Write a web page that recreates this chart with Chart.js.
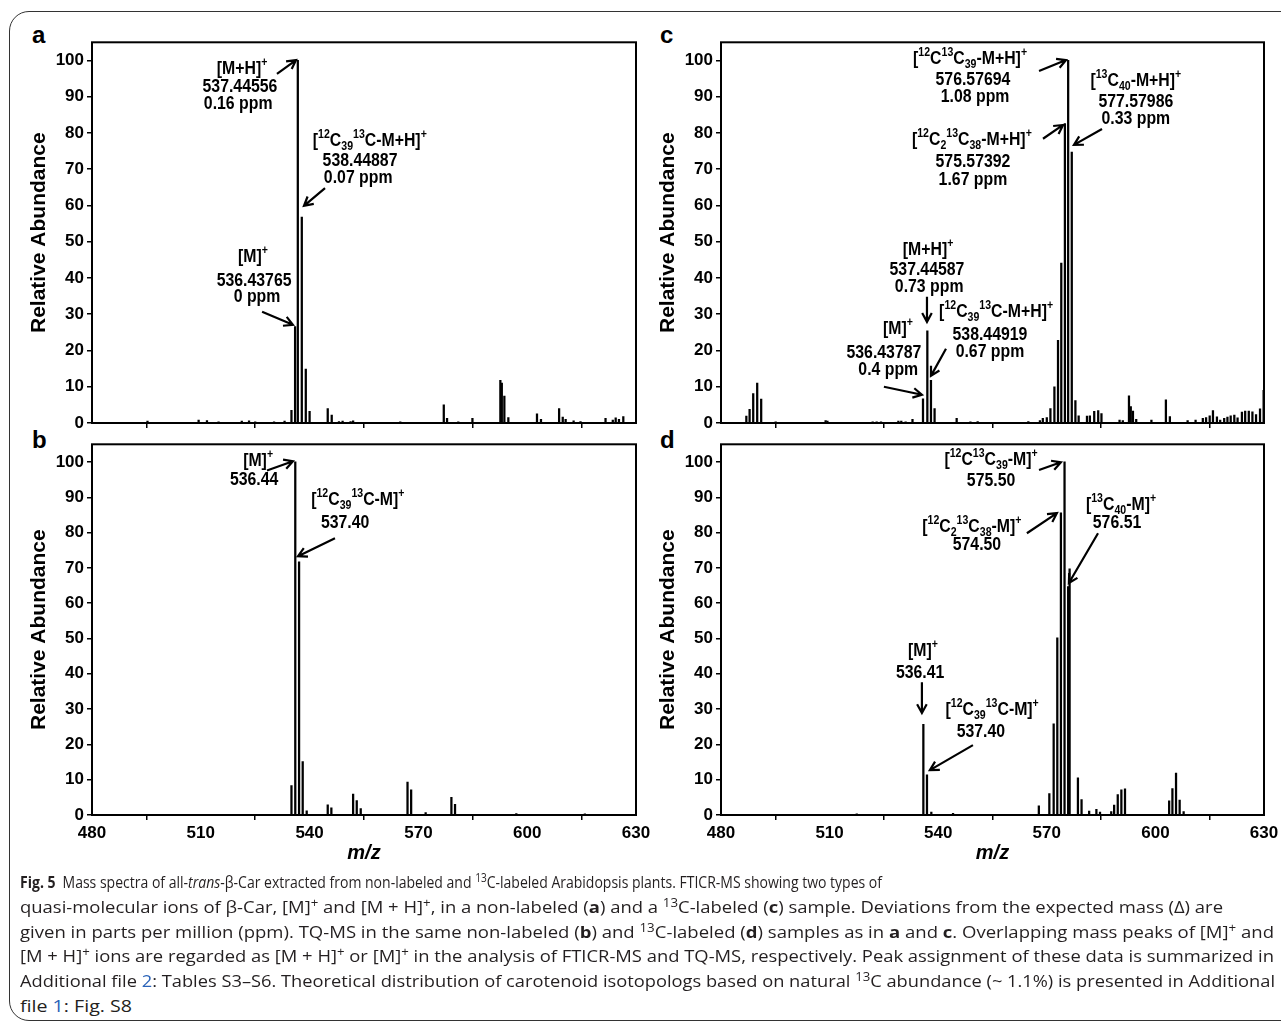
<!DOCTYPE html>
<html>
<head>
<meta charset="utf-8">
<script src="https://cdn.jsdelivr.net/npm/chart.js@4.4.1/dist/chart.umd.min.js"></script>
<style>
  body { margin: 0; width: 1281px; height: 1033px; overflow: hidden; position: relative; background: #fff; }
  .frame { position: absolute; left: 9px; top: 11px; width: 1330px; height: 1010px; border: 1.5px solid #333; border-radius: 20px; box-sizing: border-box; }
  canvas { position: absolute; }
  .tag { position: absolute; font: bold 24px "Liberation Sans", Arial, sans-serif; line-height: 24px; color: #000; }
  #caption { position: absolute; left: 20px; top: 870px; font-family: "Open Sans", "Noto Sans", sans-serif; font-size: 16.5px; color: #231f20; }
  #caption .ln { white-space: nowrap; width: max-content; height: 24.8px; line-height: 24.8px; transform-origin: 0 50%; }
  #caption sup { font-size: 0.72em; line-height: 0; vertical-align: 0.5em; }
  #caption .lk { color: #2a63b8; }
</style>
</head>
<body>
<div class="frame"></div>

<div class="tag" style="left:32px;top:23px">a</div>
<div class="tag" style="left:32px;top:428px">b</div>
<div class="tag" style="left:660px;top:23px">c</div>
<div class="tag" style="left:660px;top:428px">d</div>

<canvas id="panelA" width="656" height="420" style="left:0;top:20px"></canvas>
<canvas id="panelB" width="656" height="440" style="left:0;top:430px"></canvas>
<canvas id="panelC" width="655" height="420" style="left:629px;top:20px"></canvas>
<canvas id="panelD" width="655" height="440" style="left:629px;top:430px"></canvas>

<div id="caption">
  <div class="ln" data-w="862"><b>Fig. 5</b>&ensp;Mass spectra of all-<i>trans</i>-β-Car extracted from non-labeled and <sup>13</sup>C-labeled Arabidopsis plants. FTICR-MS showing two types of</div>
  <div class="ln" data-w="1203">quasi-molecular ions of β-Car, [M]<sup>+</sup> and [M + H]<sup>+</sup>, in a non-labeled (<b>a</b>) and a <sup>13</sup>C-labeled (<b>c</b>) sample. Deviations from the expected mass (Δ) are</div>
  <div class="ln" data-w="1254">given in parts per million (ppm). TQ-MS in the same non-labeled (<b>b</b>) and <sup>13</sup>C-labeled (<b>d</b>) samples as in <b>a</b> and <b>c</b>. Overlapping mass peaks of [M]<sup>+</sup> and</div>
  <div class="ln" data-w="1254">[M + H]<sup>+</sup> ions are regarded as [M + H]<sup>+</sup> or [M]<sup>+</sup> in the analysis of FTICR-MS and TQ-MS, respectively. Peak assignment of these data is summarized in</div>
  <div class="ln" data-w="1255">Additional file <span class="lk">2</span>: Tables S3–S6. Theoretical distribution of carotenoid isotopologs based on natural <sup>13</sup>C abundance (~ 1.1%) is presented in Additional</div>
  <div class="ln" data-w="112">file <span class="lk">1</span>: Fig. S8</div>
</div>

<script>
// axis
const mzTicks = [480, 510, 540, 570, 600, 630];
const abundanceTicks = [0, 10, 20, 30, 40, 50, 60, 70, 80, 90, 100];

// a: FTICR-MS, non-labeled
const aMz = [495.3, 509.4, 511.7, 514.9, 521.3, 523.3, 525.0, 530.2, 533.1, 535.0, 536.0, 536.75, 537.85, 538.95, 540.0,
  545.0, 546.1, 548.1, 549.1, 551.3, 552.0, 565.0, 577.0, 577.9, 581.0, 584.9, 592.6, 593.0, 593.7, 594.8,
  602.7, 603.8, 608.8, 609.8, 610.6, 612.8, 614.7, 621.6, 623.6, 624.4, 625.3, 626.5];
const aAbund = [0.5, 0.8, 0.7, 0.3, 0.5, 0.6, 0.3, 0.3, 0.5, 3.5, 26.6, 100, 56.8, 14.9, 3.2,
  4.0, 2.2, 0.4, 0.5, 0.4, 0.6, 0.3, 5.0, 1.3, 0.3, 1.3, 11.8, 11.0, 7.4, 1.5,
  2.5, 1.0, 4.0, 1.6, 1.0, 0.6, 0.4, 1.3, 0.8, 1.4, 1.0, 1.8];

// b: TQ-MS, non-labeled
const bMz = [535.0, 536.05, 537.1, 538.1, 539.2, 545.0, 546.0, 552.0, 553.0, 554.1, 567.0, 568.0, 572.0, 579.1, 580.1, 597.0, 615.9];
const bAbund = [8.3, 100, 71.7, 15.1, 1.2, 2.9, 2.0, 5.9, 4.1, 1.8, 9.3, 7.1, 0.7, 5.0, 3.0, 0.4, 0.3];

// c: FTICR-MS, 13C-labeled
const cMz = [487.0, 487.9, 488.9, 490.0, 491.1, 495.1, 508.9, 509.4, 521.9, 523.0, 524.2, 529.0, 529.8, 531.0, 532.9,
  535.8, 537.0, 538.0, 539.0, 545.1, 548.9, 550.9, 564.9, 568.1, 568.9, 570.0, 571.0, 572.1, 573.1, 574.0,
  575.0, 575.9, 576.9, 577.9, 578.8, 581.1, 581.9, 583.1, 584.2, 585.1, 590.1, 591.0, 592.7, 593.2, 593.8,
  594.7, 598.9, 602.9, 604.0, 608.9, 611.1, 613.1, 614.0, 615.0, 615.9, 617.0, 617.9, 619.0, 619.9, 620.8,
  621.8, 622.7, 623.9, 624.8, 625.8, 626.8, 627.8, 628.9, 629.9];
const cAbund = [1.9, 3.8, 8.1, 11.0, 6.6, 0.3, 0.7, 0.5, 0.3, 0.3, 0.3, 0.5, 0.5, 0.3, 1.0,
  6.7, 25.4, 11.8, 4.0, 1.3, 0.3, 0.4, 0.4, 0.7, 1.3, 1.5, 4.0, 10.0, 22.8, 44.1,
  82.6, 100, 74.7, 6.2, 2.0, 1.9, 2.0, 3.2, 3.4, 2.6, 0.8, 0.7, 7.5, 4.5, 3.3,
  1.0, 0.8, 6.4, 1.8, 0.7, 0.8, 1.3, 1.5, 2.0, 3.4, 1.7, 0.8, 1.3, 1.6, 2.0,
  2.2, 1.4, 3.0, 3.3, 3.3, 3.1, 2.3, 3.9, 9.0];

// d: TQ-MS, 13C-labeled
const dMz = [517.5, 535.9, 536.9, 538.1, 544.1, 559.3, 567.8, 570.7, 571.9, 572.9, 573.9, 574.9, 575.9, 576.3,
  578.6, 579.6, 581.7, 583.7, 584.7, 587.8, 588.6, 589.6, 590.6, 591.6, 603.8, 604.7, 605.7, 606.7, 607.8];
const dAbund = [0.3, 25.7, 11.4, 0.8, 0.5, 0.2, 2.6, 6.1, 25.8, 50.2, 85.6, 100, 64.7, 69.7,
  10.5, 4.4, 1.1, 1.6, 0.8, 1.0, 2.8, 5.8, 7.1, 7.4, 4.0, 7.5, 11.9, 4.2, 1.0];

// peak labels: each line is [text, m/z, abundance] (text baseline, centred); arrow from -> to
const notesA = [
  { lines: [['[M+H]^{+}', 521.4, 96.2], ['537.44556', 520.8, 91.3], ['0.16 ppm', 520.3, 86.6]], from: [531.0, 96.3], to: [536.25, 100.1] },
  { lines: [['[^{12}C_{39}^{13}C-M+H]^{+}', 556.6, 76.4], ['538.44887', 553.9, 70.9], ['0.07 ppm', 553.4, 66.2]], from: [544.25, 64.8], to: [538.45, 59.9] },
  { lines: [['[M]^{+}', 524.4, 44.4], ['536.43765', 524.7, 37.8], ['0 ppm', 525.5, 33.4]], from: [526.9, 30.7], to: [535.4, 27.1] }
];
const notesB = [
  { lines: [['[M]^{+}', 525.8, 98.8], ['536.44', 524.7, 93.4]], from: [528.25, 97.6], to: [535.4, 100.2] },
  { lines: [['[^{12}C_{39}^{13}C-M]^{+}', 553.3, 87.7], ['537.40', 549.8, 81.2]], from: [547.0, 78.4], to: [536.8, 73.3] }
];
const notesC = [
  { lines: [['[^{12}C^{13}C_{39}-M+H]^{+}', 548.8, 99.0], ['576.57694', 549.6, 93.2], ['1.08 ppm', 550.2, 88.5]], from: [567.85, 97.1], to: [575.3, 100.1] },
  { lines: [['[^{13}C_{40}-M+H]^{+}', 594.6, 92.9], ['577.57986', 594.6, 87.1], ['0.33 ppm', 594.6, 82.4]], from: [585.25, 81.1], to: [577.5, 76.7] },
  { lines: [['[^{12}C_{2}^{13}C_{38}-M+H]^{+}', 549.3, 76.7], ['575.57392', 549.6, 70.6], ['1.67 ppm', 549.6, 65.7]], from: [568.95, 78.4], to: [574.5, 82.2] },
  { lines: [['[M+H]^{+}', 537.2, 46.4], ['537.44587', 536.9, 40.9], ['0.73 ppm', 537.5, 36.2]], from: [536.9, 34.8], to: [536.9, 27.9] },
  { lines: [['[^{12}C_{39}^{13}C-M+H]^{+}', 556.0, 29.3], ['538.44919', 554.3, 22.9], ['0.67 ppm', 554.3, 18.3]], from: [542.15, 20.5], to: [538.0, 13.0] },
  { lines: [['[M]^{+}', 528.9, 24.6], ['536.43787', 525.0, 18.0], ['0.4 ppm', 526.2, 13.3]], from: [525.0, 10.0], to: [535.5, 7.8] }
];
const notesD = [
  { lines: [['[^{12}C^{13}C_{39}-M]^{+}', 554.6, 99.1], ['575.50', 554.6, 93.1]], from: [567.85, 97.7], to: [573.9, 99.9] },
  { lines: [['[^{13}C_{40}-M]^{+}', 590.5, 86.3], ['576.51', 589.4, 81.2]], from: [584.15, 79.8], to: [576.1, 65.7] },
  { lines: [['[^{12}C_{2}^{13}C_{38}-M]^{+}', 549.3, 80.1], ['574.50', 550.7, 75.0]], from: [564.5, 79.8], to: [572.8, 85.5] },
  { lines: [['[M]^{+}', 535.8, 45.0], ['536.41', 535.0, 38.8]], from: [535.5, 37.6], to: [535.5, 28.9] },
  { lines: [['[^{12}C_{39}^{13}C-M]^{+}', 554.9, 28.3], ['537.40', 551.8, 22.1]], from: [549.6, 19.8], to: [537.7, 12.7] }
];

const FAMILY = '"Liberation Sans", Arial, sans-serif';
const BIG = 'bold 18px ' + FAMILY;
const SMALL = 'bold 12px ' + FAMILY;

// "^{..}" = superscript, "_{..}" = subscript
function parseRich(s) {
  const out = [];
  let buf = '', i = 0;
  while (i < s.length) {
    const c = s[i];
    if ((c === '^' || c === '_') && s[i + 1] === '{') {
      if (buf) { out.push({ t: buf, m: 0 }); buf = ''; }
      const end = s.indexOf('}', i);
      out.push({ t: s.slice(i + 2, end), m: c === '^' ? 1 : -1 });
      i = end + 1;
    } else {
      buf += c;
      i++;
    }
  }
  if (buf) out.push({ t: buf, m: 0 });
  return out;
}

function drawRich(ctx, s, cx, y) {
  const parts = parseRich(s);
  const widths = parts.map((p) => {
    ctx.font = p.m ? SMALL : BIG;
    return ctx.measureText(p.t).width;
  });
  const total = widths.reduce((a, b) => a + b, 0);
  ctx.save();
  ctx.translate(cx, y);
  ctx.scale(0.88, 1);
  let x = -total / 2;
  parts.forEach((p, k) => {
    ctx.font = p.m ? SMALL : BIG;
    const dy = p.m === 1 ? -8 : p.m === -1 ? 4 : 0;
    ctx.fillText(p.t, x, dy);
    x += widths[k];
  });
  ctx.restore();
}

function drawArrow(ctx, x1, y1, x2, y2) {
  const ang = Math.atan2(y2 - y1, x2 - x1);
  const len = 10, spread = 0.5;
  ctx.beginPath();
  ctx.moveTo(x1, y1);
  ctx.lineTo(x2, y2);
  ctx.moveTo(x2 - len * Math.cos(ang - spread), y2 - len * Math.sin(ang - spread));
  ctx.lineTo(x2, y2);
  ctx.lineTo(x2 - len * Math.cos(ang + spread), y2 - len * Math.sin(ang + spread));
  ctx.stroke();
}

function boxAndNotes(notes) {
  return {
    id: 'boxAndNotes',
    afterDatasetsDraw(chart) {
      const { ctx, chartArea: a, scales: { x, y } } = chart;
      ctx.save();
      ctx.strokeStyle = '#000';
      ctx.fillStyle = '#000';
      ctx.lineWidth = 2;
      ctx.strokeRect(a.left, a.top, a.right - a.left, a.bottom - a.top);
      ctx.textBaseline = 'alphabetic';
      ctx.textAlign = 'left';
      notes.forEach((n) => {
        n.lines.forEach(([txt, m, v]) => drawRich(ctx, txt, x.getPixelForValue(m), y.getPixelForValue(v)));
        ctx.lineWidth = 2.2;
        drawArrow(ctx, x.getPixelForValue(n.from[0]), y.getPixelForValue(n.from[1]),
          x.getPixelForValue(n.to[0]), y.getPixelForValue(n.to[1]));
      });
      ctx.restore();
    }
  };
}

const tickFont = { family: FAMILY, size: 17, weight: 'bold' };

function makePanel(id, mz, abund, notes, bottomRow) {
  return new Chart(document.getElementById(id), {
    type: 'bar',
    data: {
      datasets: [{
        data: mz.map((m, i) => ({ x: m, y: abund[i] })),
        backgroundColor: '#000',
        barThickness: 1.6,
        grouped: false
      }]
    },
    options: {
      responsive: false,
      animation: false,
      events: [],
      layout: { padding: { top: bottomRow ? 14.3 : 22.3, right: 20, left: 0, bottom: 0 } },
      plugins: { legend: { display: false }, tooltip: { enabled: false } },
      scales: {
        x: {
          type: 'linear',
          min: mzTicks[0],
          max: mzTicks[mzTicks.length - 1],
          offset: false,
          afterBuildTicks: (s) => { s.ticks = mzTicks.map((v) => ({ value: v })); },
          ticks: { display: bottomRow, font: tickFont, color: '#000', padding: 3, maxRotation: 0, autoSkip: false },
          grid: { drawOnChartArea: false, drawTicks: true, tickLength: 5, color: '#000', lineWidth: 1.5 },
          border: { display: false },
          title: {
            display: bottomRow, text: 'm/z', color: '#000',
            font: { family: FAMILY, size: 20, weight: 'bold', style: 'italic' },
            padding: { top: 0, bottom: 5 }
          },
          afterFit: (s) => { s.height = bottomRow ? 55 : 17; }
        },
        y: {
          min: 0,
          max: 105,
          afterBuildTicks: (s) => { s.ticks = abundanceTicks.map((v) => ({ value: v })); },
          ticks: { font: tickFont, color: '#000', padding: 3 },
          grid: { drawOnChartArea: false, drawTicks: true, tickLength: 5, color: '#000', lineWidth: 1.5 },
          border: { display: false },
          title: {
            display: true, text: 'Relative Abundance', color: '#000',
            font: { family: FAMILY, size: 21, weight: 'bold' },
            padding: { top: 27, bottom: 0 }
          },
          afterFit: (s) => { s.width = 92; }
        }
      }
    },
    plugins: [boxAndNotes(notes)]
  });
}

makePanel('panelA', aMz, aAbund, notesA, false);
makePanel('panelB', bMz, bAbund, notesB, true);
makePanel('panelC', cMz, cAbund, notesC, false);
makePanel('panelD', dMz, dAbund, notesD, true);

// fit each caption line to the width it has in the figure
document.querySelectorAll('#caption .ln').forEach((ln) => {
  const w = ln.getBoundingClientRect().width;
  ln.style.transform = 'scaleX(' + (Number(ln.dataset.w) / w) + ')';
});
</script>
</body>
</html>
